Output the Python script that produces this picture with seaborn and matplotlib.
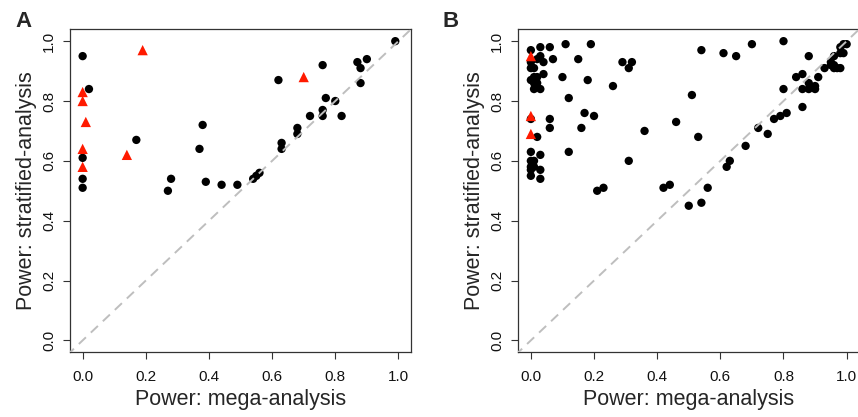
import numpy as np
import pandas as pd
import seaborn as sns
import matplotlib.pyplot as plt

sns.set_style("white")
plt.rcParams['font.family'] = ['Liberation Sans', 'DejaVu Sans']

# panel A: mega-analysis power vs stratified-analysis power
a_black_x = [0.00, 0.02, 0.38, 0.17, 0.37, 0.00, 0.00, 0.28, 0.39, 0.44, 0.00, 0.27,
             0.49, 0.54, 0.55, 0.56, 0.63, 0.63, 0.68, 0.68, 0.72, 0.76, 0.76, 0.77,
             0.80, 0.82, 0.62, 0.76, 0.87, 0.88, 0.90, 0.88, 0.99]
a_black_y = [0.95, 0.84, 0.72, 0.67, 0.64, 0.61, 0.54, 0.54, 0.53, 0.52, 0.51, 0.50,
             0.52, 0.54, 0.55, 0.56, 0.66, 0.64, 0.71, 0.69, 0.75, 0.77, 0.75, 0.81,
             0.80, 0.75, 0.87, 0.92, 0.93, 0.91, 0.94, 0.86, 1.00]
a_red_x = [0.19, 0.00, 0.00, 0.01, 0.00, 0.14, 0.00, 0.70]
a_red_y = [0.97, 0.83, 0.80, 0.73, 0.64, 0.62, 0.58, 0.88]

# panel B
b_black_x = [0.00, 0.03, 0.06, 0.11, 0.19, 0.03, 0.02, 0.00, 0.04, 0.07, 0.15, 0.00,
             0.01, 0.04, 0.10, 0.18, 0.00, 0.01, 0.02, 0.01, 0.02, 0.01, 0.03, 0.26,
             0.29, 0.32, 0.31, 0.12, 0.00, 0.06, 0.17, 0.20, 0.06, 0.16, 0.46, 0.36,
             0.02, 0.00, 0.03, 0.12, 0.00, 0.01, 0.31, 0.00, 0.01, 0.00, 0.03, 0.00,
             0.03, 0.21, 0.23, 0.42, 0.44,
             0.54, 0.61, 0.65, 0.70, 0.80, 0.88, 0.51, 0.53, 0.56, 0.50, 0.54, 0.62,
             0.63, 0.68, 0.72, 0.75, 0.77, 0.79, 0.81, 0.86, 0.80, 0.84, 0.86, 0.88,
             0.86, 0.88, 0.90, 0.90, 0.91, 0.93, 0.95, 0.95, 0.96, 0.96, 0.97, 0.98,
             0.96, 0.98, 0.99, 0.98, 0.99, 1.00]
b_black_y = [0.97, 0.98, 0.98, 0.99, 0.99, 0.95, 0.94, 0.93, 0.93, 0.94, 0.94, 0.91,
             0.91, 0.89, 0.88, 0.87, 0.87, 0.88, 0.88, 0.86, 0.86, 0.84, 0.84, 0.85,
             0.93, 0.93, 0.91, 0.81, 0.74, 0.74, 0.76, 0.75, 0.71, 0.71, 0.73, 0.70,
             0.68, 0.63, 0.62, 0.63, 0.60, 0.60, 0.60, 0.58, 0.58, 0.57, 0.57, 0.55,
             0.54, 0.50, 0.51, 0.51, 0.52,
             0.97, 0.96, 0.95, 0.99, 1.00, 0.95, 0.82, 0.68, 0.51, 0.45, 0.46, 0.58,
             0.60, 0.65, 0.71, 0.69, 0.74, 0.75, 0.76, 0.78, 0.84, 0.88, 0.89, 0.86,
             0.84, 0.84, 0.84, 0.85, 0.88, 0.91, 0.92, 0.93, 0.92, 0.91, 0.91, 0.91,
             0.95, 0.96, 0.96, 0.98, 0.99, 0.99]
b_red_x = [0.00, 0.00, 0.00]
b_red_y = [0.95, 0.75, 0.69]

ticks = [0.0, 0.2, 0.4, 0.6, 0.8, 1.0]
tick_labels = ['0.0', '0.2', '0.4', '0.6', '0.8', '1.0']


def make_df(bx, by, rx, ry):
    d1 = pd.DataFrame({'mega': bx, 'strat': by, 'kind': 'black'})
    d2 = pd.DataFrame({'mega': rx, 'strat': ry, 'kind': 'red'})
    return pd.concat([d1, d2], ignore_index=True)


panels = [('A', make_df(a_black_x, a_black_y, a_red_x, a_red_y)),
          ('B', make_df(b_black_x, b_black_y, b_red_x, b_red_y))]

fig = plt.figure(figsize=(8.58, 4.17), dpi=100)
boxes = [[0.0816, 0.155, 0.3975, 0.775],
         [0.604, 0.155, 0.3975, 0.775]]
letter_x = [0.018, 0.516]
spine_col = '#333333'

for idx, (name, df) in enumerate(panels):
    ax = fig.add_axes(boxes[idx])
    sns.scatterplot(data=df, x='mega', y='strat', hue='kind', style='kind',
                    size='kind',
                    palette={'black': 'black', 'red': '#ff1a00'},
                    markers={'black': 'o', 'red': '^'},
                    sizes={'black': 36, 'red': 55},
                    linewidth=0, legend=False, ax=ax, zorder=2)
    # diagonal drawn over the points, as in the original
    ax.plot([-0.05, 1.05], [-0.05, 1.05], color='#bebebe', lw=1.4,
            dashes=(5, 3.5), zorder=3)
    ax.set_xlim(-0.04, 1.04)
    ax.set_ylim(-0.04, 1.04)
    ax.set_xticks(ticks)
    ax.set_xticklabels(tick_labels)
    ax.set_yticks(ticks)
    ax.set_yticklabels(tick_labels, rotation=90, va='center')
    ax.tick_params(axis='both', direction='out', length=5, width=0.8,
                   color=spine_col, labelsize=11, labelcolor='#111111',
                   bottom=True, left=True)
    ax.tick_params(axis='x', pad=8)
    ax.tick_params(axis='y', pad=5)
    for sp in ax.spines.values():
        sp.set_visible(True)
        sp.set_color(spine_col)
        sp.set_linewidth(0.9)
    ax.set_xlabel('Power: mega-analysis', fontsize=15.5, labelpad=3)
    ax.set_ylabel('Power: stratified-analysis', fontsize=15.5, labelpad=4)
    fig.text(letter_x[idx], 0.935, name, fontsize=16, fontweight='bold',
             va='baseline', ha='left')

plt.savefig('out.png', dpi=100)
